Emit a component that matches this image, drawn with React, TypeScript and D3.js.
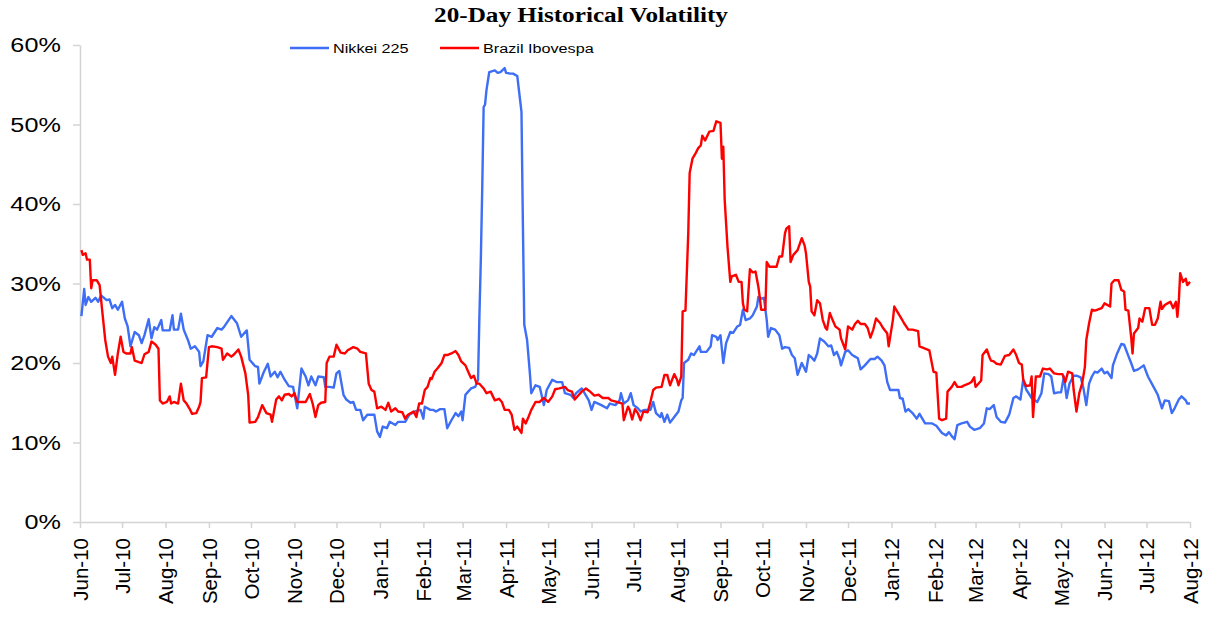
import { useEffect, useRef } from 'react'
import * as d3 from 'd3'

const title = '20-Day Historical Volatility'
const seriesNames = ['Nikkei 225', 'Brazil Ibovespa']
const seriesColors = ['#3d6ef5', '#ff0000']
const monthLabels = ['Jun-10', 'Jul-10', 'Aug-10', 'Sep-10', 'Oct-10', 'Nov-10', 'Dec-10', 'Jan-11', 'Feb-11', 'Mar-11', 'Apr-11', 'May-11', 'Jun-11', 'Jul-11', 'Aug-11', 'Sep-11', 'Oct-11', 'Nov-11', 'Dec-11', 'Jan-12', 'Feb-12', 'Mar-12', 'Apr-12', 'May-12', 'Jun-12', 'Jul-12', 'Aug-12']
const yTicks = [0, 10, 20, 30, 40, 50, 60]
const startDate = new Date(2010, 5, 1)
const endDate = new Date(2012, 7, 1)

// [days since 1 Jun 2010, volatility %]
const nikkei: [number, number][] = [
  [1, 25.9], [3, 29.3], [4, 27.3], [6, 28.3], [8, 27.7], [11, 28.2], [13, 27.7], [15, 28.5], [19, 27.9], [21, 28.0], [23, 26.9], [25, 27.3], [27, 26.7], [30, 27.7], [32, 25.6], [34, 24.6], [36, 22.1], [39, 23.9], [42, 23.5], [44, 22.5], [46, 23.5], [49, 25.5], [51, 23.1], [53, 24.5], [55, 24.2], [58, 25.4], [59, 24.1], [64, 24.1], [66, 26.0], [67, 24.2], [70, 24.2], [72, 26.2], [74, 24.2], [77, 22.9], [79, 21.8], [82, 22.1], [85, 21.4], [86, 19.6], [88, 20.2], [91, 23.5], [94, 23.3], [98, 24.4], [101, 24.2], [103, 24.6], [108, 25.9], [112, 25.0], [115, 23.3], [119, 24.1], [121, 20.4], [125, 19.6], [127, 19.5], [128, 17.4], [131, 18.8], [134, 19.9], [136, 18.3], [139, 18.9], [141, 18.2], [143, 18.9], [146, 17.9], [149, 17.1], [152, 17.0], [155, 14.3], [158, 19.3], [161, 18.3], [163, 17.2], [165, 18.3], [168, 17.2], [170, 18.3], [174, 18.2], [175, 17.0], [178, 17.0], [181, 16.9], [183, 18.7], [185, 19.0], [188, 16.0], [190, 15.4], [193, 15.0], [195, 15.1], [197, 14.1], [200, 14.1], [202, 12.8], [205, 13.5], [210, 13.5], [212, 11.4], [214, 10.7], [216, 12.0], [219, 11.8], [221, 12.6], [225, 12.2], [227, 12.6], [232, 12.6], [235, 13.5], [239, 13.9], [243, 14.1], [245, 13.0], [246, 14.5], [250, 14.1], [252, 14.1], [254, 13.9], [257, 14.2], [260, 14.2], [262, 11.8], [265, 12.8], [268, 13.7], [270, 13.3], [272, 13.9], [273, 12.8], [275, 16.0], [277, 16.4], [279, 16.8], [282, 17.0], [284, 17.9], [285, 26.0], [286, 33.0], [287, 42.0], [288, 52.2], [289, 52.5], [290, 54.3], [292, 56.6], [296, 56.8], [298, 56.5], [300, 56.6], [303, 57.1], [304, 56.5], [307, 56.4], [309, 56.4], [312, 56.1], [315, 51.6], [316, 37.6], [317, 24.8], [319, 22.9], [321, 18.7], [322, 16.2], [325, 17.2], [328, 17.0], [331, 14.7], [333, 16.6], [337, 17.9], [340, 17.6], [344, 17.6], [346, 16.2], [350, 16.0], [352, 15.6], [354, 16.2], [358, 16.8], [360, 16.2], [363, 15.3], [365, 14.1], [367, 15.1], [372, 14.7], [376, 14.3], [378, 14.9], [382, 14.7], [385, 15.3], [386, 16.2], [388, 14.9], [391, 15.3], [393, 16.2], [395, 14.7], [398, 14.3], [400, 13.9], [403, 14.1], [407, 14.1], [409, 15.1], [411, 13.7], [414, 13.2], [415, 13.7], [417, 12.6], [419, 13.5], [421, 12.5], [424, 13.2], [427, 13.9], [429, 15.3], [430, 15.6], [431, 20.0], [434, 20.4], [436, 21.2], [438, 21.0], [442, 22.1], [443, 21.4], [447, 21.4], [450, 22.1], [451, 23.5], [454, 23.3], [455, 22.9], [457, 23.5], [459, 20.0], [461, 22.5], [464, 23.9], [466, 23.8], [469, 24.6], [471, 24.8], [473, 26.7], [475, 25.4], [478, 25.6], [480, 26.0], [483, 27.1], [484, 28.3], [486, 28.1], [488, 28.2], [490, 25.4], [491, 23.3], [493, 24.4], [496, 24.2], [499, 23.5], [501, 21.8], [503, 22.0], [506, 21.9], [508, 21.0], [510, 20.6], [512, 18.5], [515, 20.0], [518, 18.9], [520, 21.0], [522, 20.7], [524, 20.3], [526, 21.2], [528, 23.1], [531, 22.7], [534, 22.1], [536, 22.2], [538, 21.0], [540, 21.4], [542, 20.5], [543, 19.7], [546, 21.4], [548, 21.6], [551, 21.0], [553, 20.8], [555, 20.6], [557, 19.2], [560, 19.7], [564, 20.5], [567, 20.5], [569, 20.8], [572, 20.3], [574, 19.7], [576, 17.6], [578, 16.6], [582, 16.6], [584, 16.6], [585, 15.6], [587, 15.5], [589, 13.9], [591, 14.2], [594, 13.7], [597, 13.0], [599, 13.6], [603, 12.4], [608, 12.4], [611, 12.1], [615, 11.2], [618, 10.9], [620, 11.3], [622, 10.8], [624, 10.4], [626, 12.2], [629, 12.4], [633, 12.6], [635, 12.0], [638, 11.6], [642, 11.8], [645, 12.4], [647, 14.3], [649, 14.2], [652, 14.7], [654, 13.2], [657, 12.6], [660, 12.5], [663, 13.5], [666, 15.6], [668, 15.8], [671, 15.4], [673, 17.9], [675, 16.7], [679, 15.6], [683, 15.1], [686, 16.2], [688, 18.7], [691, 18.6], [693, 18.3], [695, 16.2], [698, 16.3], [700, 16.3], [702, 18.3], [704, 15.6], [706, 17.4], [709, 18.4], [711, 18.4], [714, 18.2], [716, 16.8], [718, 14.7], [720, 17.4], [722, 18.3], [724, 18.9], [726, 18.8], [729, 19.3], [731, 18.7], [733, 18.9], [736, 18.1], [737, 19.7], [740, 21.2], [743, 22.4], [745, 22.3], [748, 20.9], [750, 20.0], [752, 19.0], [755, 19.2], [759, 19.7], [762, 18.3], [766, 17.0], [769, 16.0], [772, 14.3], [774, 15.3], [777, 15.2], [779, 13.7], [781, 14.3], [784, 15.4], [786, 15.8], [789, 15.3], [790, 14.9], [792, 14.9],
]

const ibovespa: [number, number][] = [
  [1, 34.2], [2, 33.6], [4, 33.8], [5, 33.0], [7, 33.0], [8, 29.4], [9, 30.4], [12, 30.4], [14, 29.8], [16, 26.3], [18, 22.9], [20, 20.8], [22, 20.0], [23, 20.8], [25, 18.5], [27, 21.2], [29, 23.3], [31, 21.4], [33, 21.2], [36, 21.2], [37, 22.0], [39, 20.3], [42, 20.1], [44, 20.0], [46, 21.1], [49, 21.4], [51, 22.7], [54, 22.3], [56, 21.8], [57, 15.3], [59, 14.9], [62, 15.1], [64, 15.8], [65, 14.9], [67, 15.1], [70, 14.9], [72, 17.4], [74, 15.3], [76, 14.9], [78, 14.3], [80, 13.6], [83, 13.7], [85, 14.5], [86, 15.1], [87, 18.1], [90, 18.2], [92, 22.0], [94, 22.1], [98, 22.0], [101, 21.8], [102, 20.4], [105, 21.2], [108, 20.8], [110, 21.1], [113, 21.7], [115, 20.8], [118, 18.7], [120, 16.0], [121, 12.5], [125, 12.6], [127, 13.2], [130, 14.7], [133, 13.7], [136, 13.5], [137, 12.6], [140, 15.4], [142, 15.8], [144, 15.3], [146, 16.0], [149, 16.1], [151, 15.8], [153, 16.2], [155, 15.1], [158, 15.1], [161, 15.1], [164, 16.1], [166, 14.9], [168, 13.2], [170, 14.7], [172, 15.0], [175, 15.1], [176, 20.0], [178, 20.8], [181, 20.8], [183, 22.3], [186, 21.3], [189, 21.2], [191, 21.6], [195, 22.0], [198, 21.8], [200, 21.4], [204, 21.2], [206, 17.4], [208, 16.6], [210, 16.4], [212, 14.3], [215, 14.5], [218, 14.1], [220, 15.0], [222, 13.9], [225, 14.3], [227, 13.9], [230, 13.8], [232, 13.0], [234, 13.5], [238, 13.9], [240, 13.2], [242, 14.9], [244, 14.9], [246, 16.6], [248, 17.0], [250, 18.1], [251, 18.0], [253, 18.9], [255, 19.3], [258, 20.0], [260, 21.0], [262, 21.0], [265, 21.2], [268, 21.5], [270, 21.0], [272, 20.2], [275, 19.7], [277, 18.9], [279, 18.1], [281, 18.4], [283, 17.4], [285, 17.4], [288, 16.8], [290, 16.2], [293, 16.4], [296, 15.3], [299, 15.5], [301, 15.1], [303, 14.1], [306, 14.1], [308, 13.5], [310, 11.6], [312, 12.0], [315, 11.2], [316, 13.0], [318, 12.4], [320, 13.2], [322, 14.1], [325, 15.1], [328, 15.1], [331, 15.6], [334, 15.1], [337, 15.8], [339, 16.7], [342, 16.8], [346, 17.0], [348, 16.6], [351, 16.4], [353, 15.4], [356, 16.0], [358, 16.4], [361, 16.8], [364, 16.4], [367, 15.9], [370, 16.0], [373, 15.6], [377, 15.6], [379, 15.3], [383, 15.1], [387, 14.9], [388, 12.8], [391, 14.5], [392, 14.2], [394, 12.9], [396, 14.2], [398, 13.7], [400, 12.8], [402, 13.9], [405, 13.8], [407, 15.1], [409, 16.6], [411, 16.9], [415, 17.0], [417, 18.5], [419, 18.5], [421, 17.2], [424, 18.6], [426, 17.9], [427, 17.2], [429, 18.3], [430, 26.5], [432, 26.6], [434, 36.3], [435, 43.9], [437, 45.7], [439, 46.3], [441, 47.0], [443, 47.4], [444, 48.6], [446, 48.0], [449, 49.1], [452, 49.2], [454, 50.4], [457, 50.2], [458, 45.7], [459, 47.2], [460, 40.5], [462, 34.6], [464, 30.2], [465, 30.9], [468, 31.1], [470, 30.2], [472, 30.2], [473, 27.5], [474, 26.7], [476, 26.5], [478, 31.8], [480, 31.4], [482, 31.5], [484, 29.6], [485, 28.3], [486, 26.7], [489, 26.7], [490, 32.7], [492, 32.1], [497, 32.1], [499, 33.4], [501, 33.4], [503, 36.3], [504, 36.9], [506, 37.2], [507, 32.7], [509, 33.6], [512, 34.2], [515, 35.7], [517, 34.8], [518, 33.8], [520, 30.2], [521, 29.6], [522, 26.5], [524, 26.0], [526, 27.9], [528, 27.5], [530, 25.4], [532, 24.4], [533, 24.2], [535, 26.3], [537, 25.4], [539, 24.6], [542, 24.2], [543, 23.1], [546, 21.7], [548, 24.6], [551, 24.2], [553, 24.9], [555, 25.3], [557, 24.9], [560, 24.9], [562, 24.4], [564, 23.2], [566, 24.2], [568, 25.6], [571, 25.0], [573, 24.4], [576, 23.7], [577, 22.1], [580, 25.4], [581, 27.1], [583, 26.5], [586, 25.6], [588, 25.0], [591, 24.2], [594, 24.2], [598, 24.0], [599, 22.1], [603, 21.8], [606, 21.6], [609, 18.9], [611, 18.8], [613, 13.0], [615, 12.8], [618, 13.0], [619, 16.4], [622, 17.0], [624, 17.6], [626, 17.0], [629, 17.0], [631, 17.2], [634, 17.4], [636, 17.6], [638, 18.2], [639, 17.0], [641, 17.4], [643, 17.8], [644, 21.0], [647, 21.7], [649, 20.7], [650, 20.3], [652, 20.2], [654, 19.9], [657, 19.8], [660, 20.9], [663, 21.0], [666, 21.7], [668, 21.0], [670, 20.0], [672, 19.8], [673, 17.9], [675, 17.1], [678, 17.2], [679, 18.3], [680, 13.2], [682, 18.3], [685, 18.3], [687, 19.3], [690, 19.2], [692, 19.3], [695, 18.7], [698, 18.6], [701, 18.6], [703, 17.6], [705, 18.9], [708, 18.7], [709, 16.6], [711, 13.9], [713, 16.2], [715, 17.4], [717, 19.5], [718, 22.9], [720, 25.0], [722, 26.7], [724, 26.6], [726, 26.7], [729, 26.9], [731, 27.5], [735, 27.1], [736, 30.0], [738, 30.4], [741, 30.4], [743, 29.2], [745, 29.0], [746, 26.7], [748, 26.6], [750, 23.3], [751, 21.2], [752, 23.7], [755, 24.4], [756, 25.6], [758, 25.2], [760, 26.9], [763, 26.9], [765, 24.8], [767, 24.8], [769, 25.6], [771, 27.7], [772, 26.8], [774, 27.3], [776, 27.5], [778, 27.7], [780, 26.9], [782, 27.7], [783, 25.8], [784, 27.7], [785, 31.3], [787, 30.2], [789, 30.6], [790, 29.8], [792, 30.2],
]

const series = [nikkei, ibovespa]

export default function App() {
  const svgRef = useRef<SVGSVGElement>(null)

  useEffect(() => {
    const svg = d3.select(svgRef.current)
    svg.selectAll('*').remove()

    const xScale = d3.scaleTime().domain([startDate, endDate]).range([80, 1190])
    const yScale = d3.scaleLinear().domain([0, 60]).range([522, 45])
    const axisColor = '#d4d4d4'
    const sans = 'Liberation Sans, Arial, sans-serif'

    // y axis
    const yAxis = svg.append('g')
      .attr('transform', 'translate(80,0)')
      .call(d3.axisLeft(yScale).tickValues(yTicks).tickSize(7).tickSizeOuter(0).tickFormat(d => `${d}%`))
    yAxis.select('.domain').attr('stroke', axisColor).attr('stroke-width', 1.5)
    yAxis.selectAll('.tick line').attr('stroke', axisColor).attr('stroke-width', 1.5)
    yAxis.selectAll('.tick text')
      .attr('x', -16)
      .attr('transform', 'scale(1.2,1)')
      .attr('font-size', 21)
      .attr('font-family', sans)
      .attr('fill', '#000')

    // x axis
    const monthDates = d3.timeMonth.range(startDate, d3.timeDay.offset(endDate, 1))
    const xAxis = svg.append('g')
      .attr('transform', 'translate(0,522)')
      .call(d3.axisBottom(xScale).tickValues(monthDates).tickSize(6).tickSizeOuter(0).tickFormat((d, i) => monthLabels[i]))
    xAxis.select('.domain').attr('stroke', axisColor).attr('stroke-width', 1.5)
    xAxis.selectAll('.tick line').attr('stroke', axisColor).attr('stroke-width', 1.5)
    xAxis.selectAll('.tick text')
      .attr('transform', 'rotate(-90)')
      .attr('text-anchor', 'end')
      .attr('x', -16)
      .attr('y', 0)
      .attr('dy', '0.36em')
      .attr('font-size', 20.5)
      .attr('font-family', sans)
      .attr('fill', '#000')

    // lines
    const line = d3.line<[number, number]>()
      .x(d => xScale(d3.timeDay.offset(startDate, d[0])))
      .y(d => yScale(d[1]))

    svg.selectAll('.series')
      .data(series)
      .join('path')
      .attr('class', 'series')
      .attr('d', d => line(d))
      .attr('fill', 'none')
      .attr('stroke', (d, i) => seriesColors[i])
      .attr('stroke-width', 2.4)
      .attr('stroke-linejoin', 'round')

    // title
    svg.append('text')
      .attr('transform', 'translate(581,22) scale(1.2,1)')
      .attr('text-anchor', 'middle')
      .attr('font-family', 'Liberation Serif, Times New Roman, serif')
      .attr('font-weight', 'bold')
      .attr('font-size', 21)
      .text(title)

    // legend
    const legend = svg.selectAll('.legend')
      .data(seriesNames)
      .join('g')
      .attr('class', 'legend')
      .attr('transform', (d, i) => `translate(${290 + i * 150},48)`)
    legend.append('line')
      .attr('x1', 0).attr('x2', 39)
      .attr('stroke', (d, i) => seriesColors[i])
      .attr('stroke-width', 2.4)
    legend.append('text')
      .attr('transform', 'translate(43,5) scale(1.2,1)')
      .attr('font-family', sans)
      .attr('font-size', 13.5)
      .attr('fill', '#000')
      .text(d => d)
  }, [])

  return (
    <div>
      <style>{'body{margin:0}'}</style>
      <svg ref={svgRef} width={1212} height={617} style={{ display: 'block', background: '#fff' }} />
    </div>
  )
}
